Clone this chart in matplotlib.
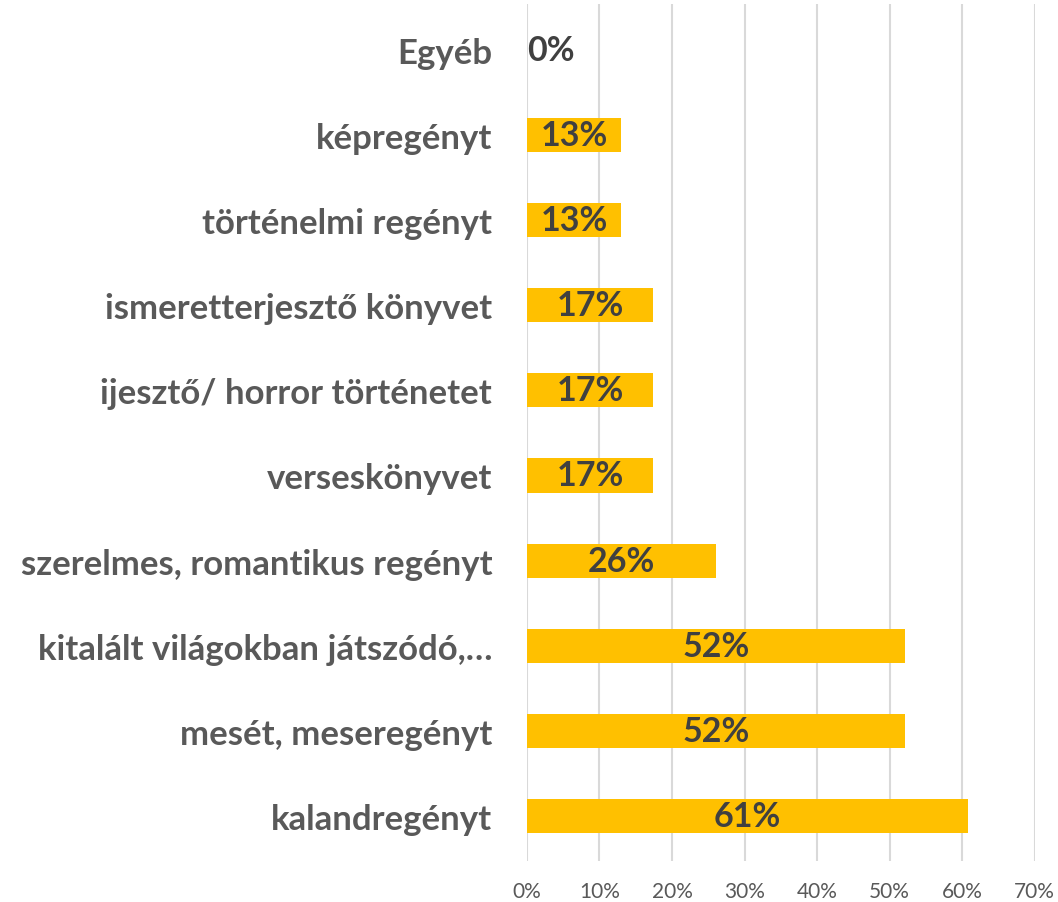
import matplotlib.pyplot as plt
from matplotlib.ticker import FuncFormatter

plt.rcParams['font.family'] = ['Lato', 'DejaVu Sans']

kategoriak = ['kalandregényt', 'mesét, meseregényt', 'kitalált világokban játszódó,…',
              'szerelmes, romantikus regényt', 'verseskönyvet', 'ijesztő/ horror történetet',
              'ismeretterjesztő könyvet', 'történelmi regényt', 'képregényt', 'Egyéb']
ertekek = [0.6087, 0.5217, 0.5217, 0.2609, 0.1739, 0.1739, 0.1739, 0.1304, 0.1304, 0.0]
tengely_ticks = [0, 0.1, 0.2, 0.3, 0.4, 0.5, 0.6, 0.7]

fig = plt.figure(figsize=(10.58, 9.03), dpi=100)
ax = fig.add_axes([0.498, 0.045, 0.48, 0.949])

y = range(len(kategoriak))
ax.barh(y, ertekek, height=0.4, color='#FFC000', zorder=3)

for i, v in enumerate(ertekek):
    ax.text(v / 2 if v > 0 else 0.0, i, f'{v:.0%}', ha='center' if v > 0 else 'left',
            va='center', fontsize=24.5, fontweight='bold', color='#404040', zorder=4)

ax.set_xlim(0, 0.7)
ax.set_ylim(-0.53, 9.53)
ax.set_xticks(tengely_ticks)
ax.xaxis.set_major_formatter(FuncFormatter(lambda x, p: f'{x:.0%}'))
ax.set_yticks(list(y))
ax.set_yticklabels(kategoriak, fontsize=25, fontweight='bold', color='#595959')
ax.tick_params(axis='x', labelsize=15, labelcolor='#595959', length=0, pad=14)
ax.tick_params(axis='y', length=0, pad=25)
ax.grid(axis='x', color='#D9D9D9', linewidth=1.5, zorder=0)
for s in ax.spines.values():
    s.set_visible(False)

fig.savefig('out.png', dpi=100)
